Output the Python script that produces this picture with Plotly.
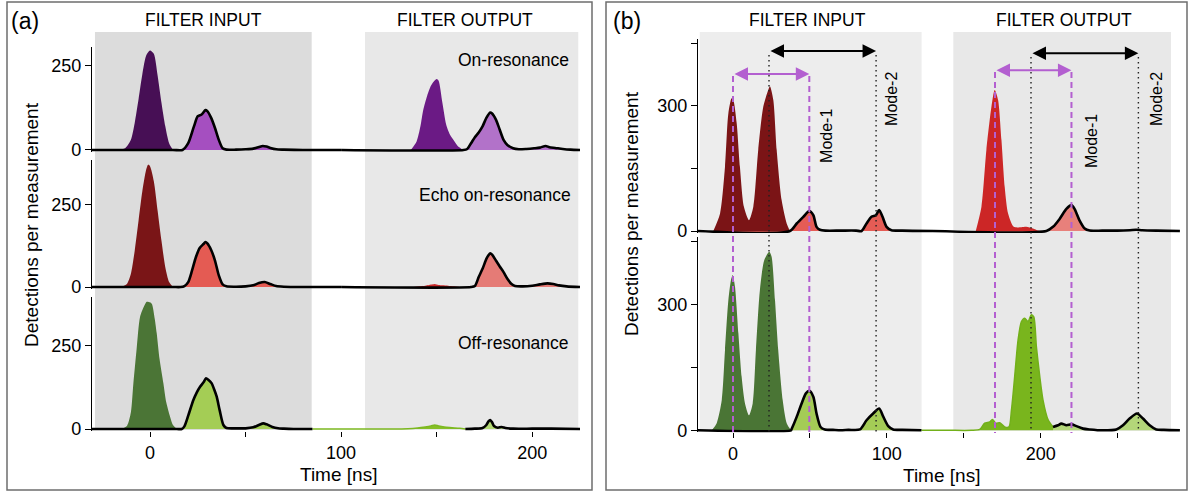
import plotly.graph_objects as go

W, H = 1188, 493
FONT = "Liberation Sans, Arial, Helvetica, sans-serif"

# ======================= DATA =======================
# ---- Panel (a), row 1: On-resonance ----
on_in_pulse_t = [-16, -13, -10, -8, -6, -4, -2, 0, 2, 4, 6, 8, 10, 12]
on_in_pulse_y = [0, 5, 30, 80, 150, 225, 280, 295, 285, 220, 140, 70, 20, 0]
on_out_pulse_t = [136.5, 139.5, 141.5, 143, 145, 147, 148.5, 150, 151, 153, 155, 157, 159, 161, 164]
on_out_pulse_y = [0, 25, 70, 119, 160, 190, 203, 210, 205, 140, 75, 45, 28, 12, 0]
on_mode_in_t = [-30.4, 12, 17, 20, 23, 25, 27, 29, 30, 32, 34, 36, 38, 40, 45, 50, 54, 57, 59, 61, 63, 66, 70, 80, 100]
on_mode_in_y = [0, 0, 0, 20, 70, 100, 105, 118, 115, 95, 65, 30, 5, 1, 1, 2, 4, 9, 12, 10, 6, 2, 1, 0, 0]
on_mode_out_t = [100, 164, 166, 168, 170, 172, 174, 176, 178, 179, 181, 183, 185, 187, 190, 193, 197, 201, 204, 207, 209, 212, 216, 220, 225]
on_mode_out_y = [0, 0, 3, 20, 38, 52, 70, 95, 111, 108, 90, 60, 30, 15, 5, 2, 3, 5, 7, 12, 8, 6, 3, 1, 0]

# ---- Panel (a), row 2: Echo on-resonance ----
echo_in_pulse_t = [-15, -12, -10, -8, -6, -4, -2, -1, 0, 2, 4, 6, 8, 10, 12]
echo_in_pulse_y = [0, 10, 40, 110, 200, 290, 355, 370, 365, 320, 230, 140, 60, 15, 0]
echo_out_pulse_t = [138, 141, 144, 146, 148, 149, 151, 153, 156, 159, 162]
echo_out_pulse_y = [0, 2, 4, 6, 8, 9, 6, 5, 4, 2, 0]
echo_mode_in_t = [-30.4, 12, 16, 18, 20, 22, 24, 26, 28, 29, 30, 32, 34, 36, 38, 40, 45, 50, 54, 57, 60, 63, 66, 70, 80, 100]
echo_mode_in_y = [0, 0, 0, 3, 15, 50, 90, 118, 130, 136, 132, 112, 80, 35, 8, 2, 1, 2, 5, 12, 15, 9, 3, 1, 0, 0]
echo_mode_out_t = [100, 168, 170, 172, 174, 176, 177, 178, 179, 181, 183, 185, 187, 189, 191, 195, 200, 204, 208, 211, 214, 218, 225]
echo_mode_out_y = [0, 0, 3, 30, 55, 85, 95, 102, 98, 80, 62, 45, 25, 10, 3, 2, 4, 8, 11, 9, 5, 2, 0]

# ---- Panel (a), row 3: Off-resonance ----
off_in_pulse_t = [-15, -12, -10, -8.7, -7, -5.2, -3, -1.7, 0, 1, 2.5, 3.5, 5, 7, 8.5, 10.5, 12, 14]
off_in_pulse_y = [0, 10, 50, 137, 240, 337, 370, 382, 380, 375, 330, 288, 210, 137, 80, 37, 12, 0]
off_out_pulse_t = [85, 100, 120, 135, 140, 144, 147, 149, 151, 154, 158, 162, 165]
off_out_pulse_y = [0, 0, 0, 1, 3, 6, 9, 12, 9, 6, 4, 2, 0]
off_mode_in_t = [-30.4, 14, 16.6, 18, 20, 22.7, 24.5, 26.2, 28, 29.3, 30.5, 32.3, 33.5, 34.9, 36.5, 38.4, 40, 45, 50, 54, 57, 59.3, 61, 64, 67, 70, 75, 85]
off_mode_in_y = [0, 0, 0, 8, 40, 87, 110, 127, 140, 152, 148, 137, 120, 97, 55, 12, 3, 2, 2, 5, 12, 17, 14, 6, 2, 1, 0, 0]
off_mode_out_t = [165, 170, 174, 176, 177, 178, 179, 180, 182, 184, 186, 190, 200, 210, 225]
off_mode_out_y = [0, 1, 3, 12, 22, 27, 20, 9, 4, 6, 3, 1, 1, 1, 0]

# ---- Panel (b), row 1: red ----
red_in_pulse_t = [-12.8, -8.4, -5.2, -3, -0.9, 0.2, 2.4, 4.5, 7.1, 10.4, 13.2, 16.4, 19.7, 22.9, 24, 26.2, 28.4, 31.6, 34.9, 37]
red_in_pulse_y = [0, 42, 154, 282, 318, 314, 258, 154, 58, 26, 58, 194, 298, 338, 347, 314, 194, 74, 18, 0]
red_out_pulse_t = [157.8, 161.5, 164.7, 168, 170.1, 172.3, 174.5, 176.6, 178.8, 182.5, 187.5, 190.6, 195, 198.3, 201]
red_out_pulse_y = [0, 58, 194, 298, 338, 314, 218, 106, 42, 10, 9, 10, 6, 1, 0]
red_mode_in_t = [-22.9, 37, 41.4, 45.7, 49.6, 52.2, 54.3, 56.5, 60, 70, 80, 83.6, 86.8, 90, 92.9, 95, 97.2, 99.8, 103, 110, 130]
red_mode_in_y = [0, 0, 18, 34, 48, 38, 10, 3, 1, 1, 1, 0, 18, 34, 38, 50, 34, 10, 2, 1, 0]
red_mode_out_t = [130, 203.7, 208, 212.3, 216.7, 220, 222, 225.3, 228.6, 231.8, 240, 250, 258, 262, 266, 275, 290.5]
red_mode_out_y = [0, 0, 10, 29, 53, 62, 53, 25, 6, 1, 1, 1, 2, 3, 2, 1, 0]

# ---- Panel (b), row 2: green ----
green_in_pulse_t = [-13.8, -10.6, -7.3, -5.2, -3, -1.3, -0.2, 1.3, 3.5, 5.6, 7.8, 10.4, 12.8, 14.9, 17.5, 20.3, 23.6, 25.1, 27.3, 29.4, 32.3, 34.9, 37.7]
green_in_pulse_y = [0, 17, 72, 191, 310, 358, 370, 342, 231, 128, 64, 36, 64, 191, 334, 405, 425, 413, 310, 191, 72, 17, 0]
green_out_pulse_t = [122.5, 140, 155, 160.4, 163.6, 166.9, 168.6, 170.8, 173.4, 176.6, 179.4, 181, 183.1, 185.3, 187.5, 189.6, 191.8, 193.9, 195.5, 197.2, 199.4, 201.5, 204.8, 208]
green_out_pulse_y = [0, 0, 0, 2, 17, 20, 26, 17, 18, 8, 8, 48, 128, 215, 259, 267, 259, 275, 270, 199, 128, 72, 25, 8]
green_mode_in_t = [-22.9, 37.7, 38.1, 41.4, 44.6, 47.4, 49.6, 52.2, 54.3, 56.9, 59.7, 65, 70, 75, 82.5, 86.8, 91.1, 95, 97.6, 100.9, 104.1, 110, 122.5]
green_mode_in_y = [0, 0, 3, 32, 64, 88, 94, 80, 40, 8, 2, 1, 0, 1, 2, 24, 40, 52, 33, 10, 2, 1, 0]
green_mode_out_t = [208, 211.3, 213.4, 216.7, 220, 223.2, 227.5, 231.8, 240.5, 249.2, 253.5, 257.8, 262.6, 266.5, 270.8, 275.1, 280, 290.5]
green_mode_out_y = [8, 12, 16, 12, 14, 10, 4, 2, 0, 2, 12, 28, 40, 28, 12, 2, 1, 0]

# reference times in panel (b)
pump_times_in = [0, 49.6]          # purple dashed (input)
pump_times_out = [170.3, 220.0]    # purple dashed (output)
mode_times_in = [23.4, 93.0]       # black dotted (input)
mode_times_out = [193.7, 263.5]    # black dotted (output)

# tick labels
a_xticks = [0, 50, 100, 150, 200]
a_xticktext = ["0", "", "100", "", "200"]
a_yticks = [0, 250]
a_yticktext = ["0", "250"]
b_xticks = [0, 50, 100, 150, 200, 250]
b_xticktext = ["0", "", "100", "", "200", ""]
b_yticks = [0, 150, 300, 450]
b_yticktext = ["0", "", "300", ""]

# ======================= FIGURE =======================
def pxx(p):
    return p / W


def pxy(p):
    return 1 - p / H


fig = go.Figure()

BLACK_W = 2.6


def add_fill(t, y, ax, fill, line=None, lw=0.0):
    fig.add_trace(go.Scatter(
        x=t, y=y, xaxis=ax[0], yaxis=ax[1], mode="lines",
        fill="tozeroy", fillcolor=fill,
        line=dict(color=line if line else fill, width=lw, shape="spline", smoothing=0.7),
        hoverinfo="skip", showlegend=False))


rows = [
    (("x", "y"),
     [(on_in_pulse_t, on_in_pulse_y, "#470f55", None, 0), (on_out_pulse_t, on_out_pulse_y, "#6b1a85", None, 0)],
     [(on_mode_in_t, on_mode_in_y, "#a54fc0"), (on_mode_out_t, on_mode_out_y, "#b272c9")]),
    (("x2", "y2"),
     [(echo_in_pulse_t, echo_in_pulse_y, "#7a1517", None, 0), (echo_out_pulse_t, echo_out_pulse_y, "#c92a2a", None, 0)],
     [(echo_mode_in_t, echo_mode_in_y, "#e45b53"), (echo_mode_out_t, echo_mode_out_y, "#e57b76")]),
    (("x3", "y3"),
     [(off_in_pulse_t, off_in_pulse_y, "#4b7536", None, 0), (off_out_pulse_t, off_out_pulse_y, "#86bf26", "#7cb820", 1.5)],
     [(off_mode_in_t, off_mode_in_y, "#a4cd55"), (off_mode_out_t, off_mode_out_y, "#b3d873")]),
    (("x4", "y4"),
     [(red_in_pulse_t, red_in_pulse_y, "#7b1416", None, 0), (red_out_pulse_t, red_out_pulse_y, "#cc2626", None, 0)],
     [(red_mode_in_t, red_mode_in_y, "#e55c55"), (red_mode_out_t, red_mode_out_y, "#e8807b")]),
    (("x5", "y5"),
     [(green_in_pulse_t, green_in_pulse_y, "#4a7535", None, 0), (green_out_pulse_t, green_out_pulse_y, "#79b51d", "#72b01a", 1.5)],
     [(green_mode_in_t, green_mode_in_y, "#a4cc56"), (green_mode_out_t, green_mode_out_y, "#b3d679")]),
]

for ax, pulses, modes in rows:
    for t, y, c, lc, lw in pulses:
        add_fill(t, y, ax, c, lc, lw)
    for t, y, c in modes:
        add_fill(t, y, ax, c, "black", BLACK_W)

# ---- axes ----
a_xdom = [pxx(92), pxx(580)]
a_xrange = [-30.35, 225.0]
b_xdom = [pxx(698), pxx(1180)]
b_xrange = [-22.75, 290.55]

tickfont = dict(family=FONT, size=18, color="black")


def xcfg(dom, rng, anchor, show, tv=None, tt=None):
    d = dict(domain=dom, range=rng, anchor=anchor, showline=False, showgrid=False,
             zeroline=False, fixedrange=True, automargin=False)
    if show:
        d.update(ticks="outside", ticklen=5, tickwidth=1.3, tickcolor="black",
                 tickvals=tv, ticktext=tt, tickfont=tickfont)
    else:
        d.update(showticklabels=False, ticks="")
    return d


def ycfg(top_px, bot_px, rng, anchor, tv, tt):
    return dict(domain=[pxy(bot_px), pxy(top_px)], range=rng, anchor=anchor,
                showline=True, linecolor="black", linewidth=1.3,
                ticks="outside", ticklen=6, tickwidth=1.3, tickcolor="black",
                tickvals=tv, ticktext=tt, tickfont=tickfont,
                showgrid=False, zeroline=False, fixedrange=True, automargin=False)


fig.update_layout(
    template="none",
    xaxis=xcfg(a_xdom, a_xrange, "y", False),
    xaxis2=xcfg(a_xdom, a_xrange, "y2", False),
    xaxis3=xcfg(a_xdom, a_xrange, "y3", True, a_xticks, a_xticktext),
    xaxis4=xcfg(b_xdom, b_xrange, "y4", False),
    xaxis5=xcfg(b_xdom, b_xrange, "y5", True, b_xticks, b_xticktext),
    yaxis=ycfg(46.7, 152.0, [-6, 306], "x", a_yticks, a_yticktext),
    yaxis2=ycfg(160.0, 289.0, [-6, 384], "x2", a_yticks, a_yticktext),
    yaxis3=ycfg(296.7, 431.0, [-6, 397], "x3", a_yticks, a_yticktext),
    yaxis4=ycfg(39.0, 233.1, [-5, 460], "x4", b_yticks, b_yticktext),
    yaxis5=ycfg(236.7, 432.4, [-5, 461], "x5", b_yticks, b_yticktext),
)

# ---- shapes ----
shapes = []
# grey windows
for x0, x1, xr, col, bot in [(-28.8, 84.6, "x3", "#dcdcdc", 430), (112.5, 224.1, "x3", "#e8e8e8", 430),
                             (-21.6, 122.6, "x5", "#ededed", 431), (143.2, 284.7, "x5", "#e8e8e8", 431)]:
    shapes.append(dict(type="rect", xref=xr, yref="paper", x0=x0, x1=x1, y0=pxy(bot), y1=pxy(32),
                       fillcolor=col, line=dict(width=0), layer="below"))
# panel frames
for l, r in [(7, 592), (606, 1187)]:
    shapes.append(dict(type="rect", xref="paper", yref="paper", x0=pxx(l), x1=pxx(r), y0=pxy(490), y1=pxy(2),
                       line=dict(color="#6e6e6e", width=1.5), fillcolor="rgba(0,0,0,0)", layer="above"))
# dotted mode lines
for xv, top in [(mode_times_in[0], 55), (mode_times_in[1], 55), (mode_times_out[0], 57), (mode_times_out[1], 57)]:
    shapes.append(dict(type="line", xref="x4", yref="paper", x0=xv, x1=xv, y0=pxy(top), y1=pxy(432),
                       line=dict(color="#222222", width=1.4, dash="1.5px,3.5px"), layer="above"))
# purple dashed pump lines
for xv, top in [(pump_times_in[0], 76), (pump_times_in[1], 76), (pump_times_out[0], 72), (pump_times_out[1], 72)]:
    shapes.append(dict(type="line", xref="x4", yref="paper", x0=xv, x1=xv, y0=pxy(top), y1=pxy(433),
                       line=dict(color="#b35fd0", width=2, dash="6px,4px"), layer="above"))
fig.update_layout(shapes=shapes)

# ---- annotations ----
ann = []


def txt(s, px, py, size, xanchor="center", yanchor="middle", angle=0):
    ann.append(dict(text=s, x=pxx(px), y=pxy(py), xref="paper", yref="paper", showarrow=False,
                    xanchor=xanchor, yanchor=yanchor, textangle=angle,
                    font=dict(family=FONT, size=size, color="black")))


txt("(a)", 9, 21, 23, xanchor="left")
txt("(b)", 611, 21, 23, xanchor="left")
txt("FILTER INPUT", 203, 20, 17.5)
txt("FILTER OUTPUT", 465, 20, 17.5)
txt("FILTER INPUT", 807.5, 20, 17.5)
txt("FILTER OUTPUT", 1064, 20, 17.5)
txt("On-resonance", 571, 60, 17.5, xanchor="right")
txt("Echo on-resonance", 573, 195, 17.5, xanchor="right")
txt("Off-resonance", 571, 343, 17.5, xanchor="right")
txt("Detections per measurement", 31, 225, 19, angle=-90)
txt("Detections per measurement", 632, 214, 19, angle=-90)
txt("Time [ns]", 338, 474, 19)
txt("Time [ns]", 941, 475, 19)

# Mode labels (rotated) in data-x of panel (b)
for s, xv, py in [("Mode-1", 60.4, 136), ("Mode-2", 103.3, 99), ("Mode-1", 232.7, 141), ("Mode-2", 275.6, 99)]:
    ann.append(dict(text=s, x=xv, y=pxy(py), xref="x4", yref="paper", showarrow=False,
                    textangle=-90, xanchor="center", yanchor="middle",
                    font=dict(family=FONT, size=16, color="black")))

# double arrows
for x0, x1, yv, col in [(mode_times_in[0], mode_times_in[1], 431, "black"),
                        (mode_times_out[0], mode_times_out[1], 426, "black"),
                        (pump_times_in[0], pump_times_in[1], 376, "#b35fd0"),
                        (pump_times_out[0], pump_times_out[1], 385, "#b35fd0")]:
    ann.append(dict(text="", x=x1, y=yv, ax=x0, ay=yv, xref="x4", yref="y4", axref="x4", ayref="y4",
                    showarrow=True, arrowhead=2, arrowside="end+start", arrowsize=1.35, arrowwidth=2,
                    arrowcolor=col, standoff=0, startstandoff=0))

fig.update_layout(
    annotations=ann,
    width=W, height=H, autosize=False,
    margin=dict(l=0, r=0, t=0, b=0, pad=0, autoexpand=False),
    paper_bgcolor="white", plot_bgcolor="rgba(0,0,0,0)",
    showlegend=False,
    font=dict(family=FONT, color="black"),
)

POST = (
    "var de=document.documentElement, b=document.body;"
    "de.style.margin='0';de.style.padding='0';de.style.overflow='hidden';"
    "b.style.margin='0';b.style.padding='0';b.style.overflow='hidden';"
    "var g=document.getElementsByClassName('plotly-graph-div')[0];"
    "if(g){g.style.position='fixed';g.style.left='0px';g.style.top='0px';}"
)

fig.write_html("out.html", config={"displayModeBar": False, "responsive": False}, post_script=POST)
